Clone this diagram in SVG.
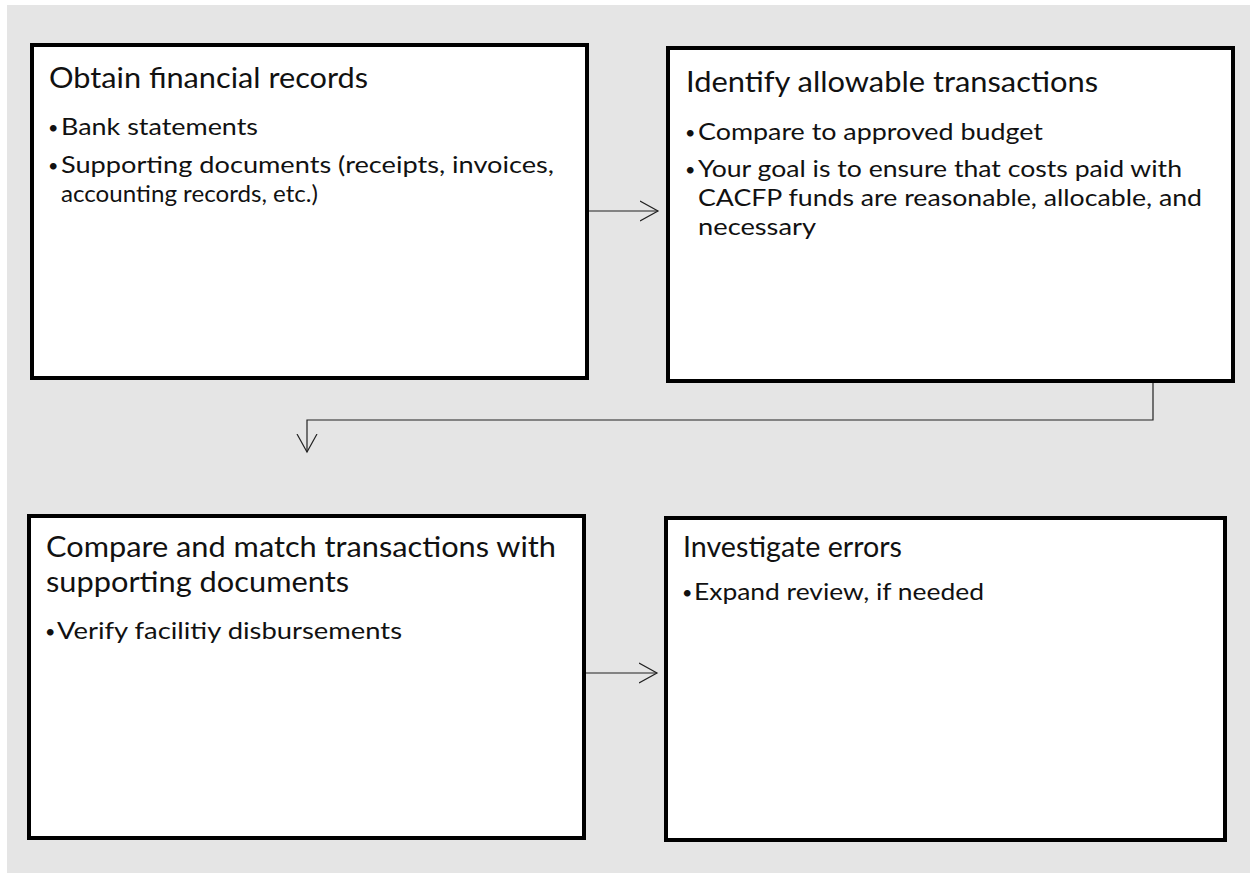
<svg xmlns="http://www.w3.org/2000/svg" width="1250" height="873" viewBox="0 0 1250 873">
<defs>
<style>
.box{fill:#ffffff;stroke:#000000;stroke-width:4}
.t{font-family:Lato,"Open Sans",sans-serif;font-size:28px;fill:#111111}
.b{font-family:Lato,"Open Sans",sans-serif;font-size:24px;fill:#111111}
.bu{font-family:Lato,"Open Sans",sans-serif;font-size:18px;fill:#111111}
.c{fill:none;stroke:#222222;stroke-width:1.2}
</style>
<marker id="arr" markerWidth="20" markerHeight="22" refX="18" refY="11" orient="auto" markerUnits="userSpaceOnUse">
<path d="M0,1 L18,11 L0,21" fill="none" stroke="#222222" stroke-width="1.2"/>
</marker>
</defs>
<rect x="7" y="5" width="1243" height="868" fill="#e5e5e5"/>
<g id="connectors">
<line class="c" x1="589" y1="211" x2="658" y2="211" marker-end="url(#arr)"/>
<polyline class="c" points="1153,383 1153,420 307,420 307,452" marker-end="url(#arr)"/>
<line class="c" x1="586" y1="673" x2="657" y2="673" marker-end="url(#arr)"/>
</g>
<g id="node1">
<rect class="box" x="32" y="45" width="555" height="333"/>
<text class="t" x="49" y="88" textLength="319" lengthAdjust="spacingAndGlyphs">Obtain financial records</text>
<text class="bu" x="48" y="134">•</text>
<text class="b" x="61" y="135" textLength="197" lengthAdjust="spacingAndGlyphs">Bank statements</text>
<text class="bu" x="48" y="172">•</text>
<text class="b" x="61" y="173" textLength="493" lengthAdjust="spacingAndGlyphs">Supporting documents (receipts, invoices,</text>
<text class="b" x="61" y="202" textLength="257" lengthAdjust="spacingAndGlyphs">accounting records, etc.)</text>
</g>
<g id="node2">
<rect class="box" x="668" y="48" width="565" height="333"/>
<text class="t" x="686" y="92" textLength="412" lengthAdjust="spacingAndGlyphs">Identify allowable transactions</text>
<text class="bu" x="685" y="139">•</text>
<text class="b" x="698" y="140" textLength="345" lengthAdjust="spacingAndGlyphs">Compare to approved budget</text>
<text class="bu" x="685" y="176">•</text>
<text class="b" x="698" y="177" textLength="484" lengthAdjust="spacingAndGlyphs">Your goal is to ensure that costs paid with</text>
<text class="b" x="698" y="206" textLength="504" lengthAdjust="spacingAndGlyphs">CACFP funds are reasonable, allocable, and</text>
<text class="b" x="698" y="235" textLength="118" lengthAdjust="spacingAndGlyphs">necessary</text>
</g>
<g id="node3">
<rect class="box" x="29" y="516" width="555" height="322"/>
<text class="t" x="46" y="557" textLength="510" lengthAdjust="spacingAndGlyphs">Compare and match transactions with</text>
<text class="t" x="46" y="592" textLength="303" lengthAdjust="spacingAndGlyphs">supporting documents</text>
<text class="bu" x="45" y="638">•</text>
<text class="b" x="57" y="639" textLength="345" lengthAdjust="spacingAndGlyphs">Verify  facilitiy disbursements</text>
</g>
<g id="node4">
<rect class="box" x="666" y="518" width="559" height="322"/>
<text class="t" x="683" y="557" textLength="219" lengthAdjust="spacingAndGlyphs">Investigate errors</text>
<text class="bu" x="682" y="599">•</text>
<text class="b" x="694" y="600" textLength="290" lengthAdjust="spacingAndGlyphs">Expand review, if needed</text>
</g>
</svg>
